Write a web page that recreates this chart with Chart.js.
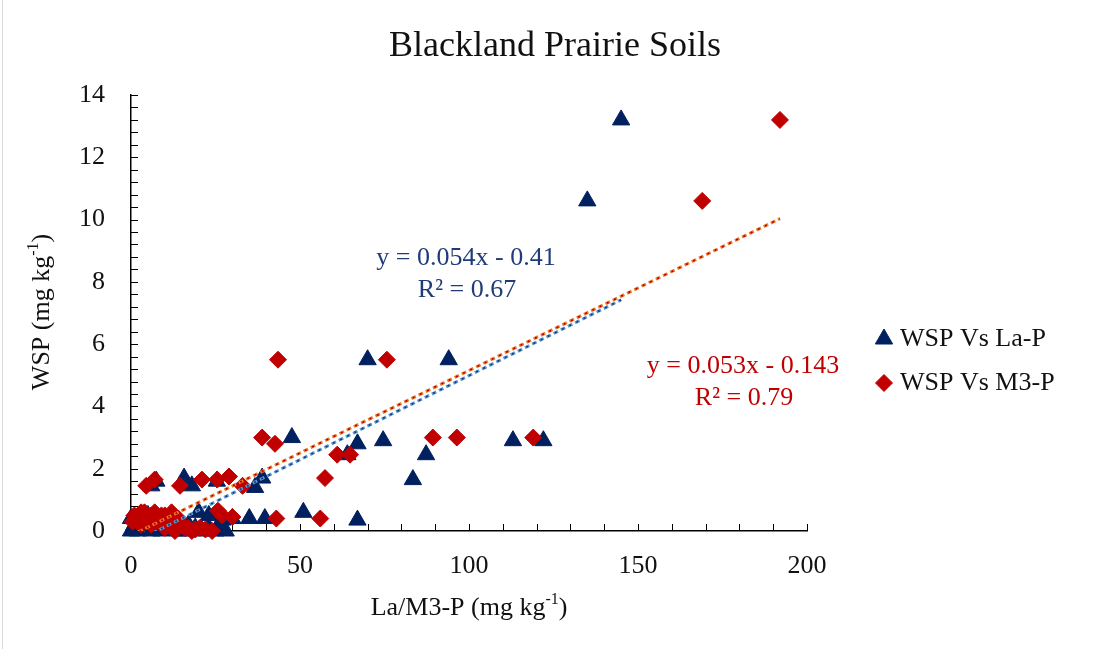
<!DOCTYPE html>
<html>
<head>
<meta charset="utf-8">
<title>Blackland Prairie Soils</title>
<script src="https://cdn.jsdelivr.net/npm/chart.js@4.4.0/dist/chart.umd.min.js"></script>
<style>
    html, body { margin: 0; padding: 0; background: #fff; }
    #wrap { position: relative; width: 1097px; height: 649px; }
</style>
</head>
<body>
<div id="wrap"><canvas id="wspChart"></canvas></div>
<script>
// Data (mg kg-1)
const laP = [
    {x: 145, y: 13.2}, {x: 135, y: 10.6}, {x: 70, y: 5.5}, {x: 94, y: 5.5},
    {x: 47.6, y: 3.0}, {x: 67, y: 2.8}, {x: 74.6, y: 2.9}, {x: 113, y: 2.9}, {x: 122, y: 2.9},
    {x: 64, y: 2.45}, {x: 87.3, y: 2.45}, {x: 83.4, y: 1.65}, {x: 38.8, y: 1.7}, {x: 36.7, y: 1.4},
    {x: 51, y: 0.6}, {x: 67, y: 0.35}, {x: 35, y: 0.4}, {x: 39.6, y: 0.4},
    {x: 15.7, y: 1.7}, {x: 18, y: 1.45}, {x: 25.4, y: 1.6}, {x: 6, y: 1.45}, {x: 7.5, y: 1.6},
    {x: 27, y: 0.35}, {x: 23, y: 0.5}, {x: 30, y: 0.4}, {x: 20, y: 0.6}, {x: 12, y: 0.3},
    {x: 0, y: 0}, {x: 0, y: 0.4}, {x: 2, y: 0}, {x: 4, y: 0.2}, {x: 6, y: 0}, {x: 9, y: 0},
    {x: 11, y: 0.1}, {x: 14, y: 0}, {x: 17, y: 0.2}, {x: 21, y: 0}, {x: 25, y: 0}, {x: 28, y: 0},
    {x: 5, y: 0.5}, {x: 8, y: 0.4}, {x: 3, y: 0.3},
    {x: 1, y: 0.2}, {x: 7, y: 0.2}, {x: 10, y: 0.4}, {x: 13, y: 0.2}, {x: 16, y: 0},
    {x: 19, y: 0.1}, {x: 23, y: 0.1}, {x: 26, y: 0.2}
];
const m3P = [
    {x: 192, y: 13.2}, {x: 169, y: 10.6}, {x: 43.5, y: 5.5}, {x: 75.7, y: 5.5},
    {x: 38.8, y: 3.0}, {x: 42.6, y: 2.8}, {x: 89.3, y: 3.0}, {x: 96.4, y: 3.0}, {x: 119, y: 3.0},
    {x: 61, y: 2.45}, {x: 64.8, y: 2.45}, {x: 57.4, y: 1.7}, {x: 43, y: 0.4}, {x: 56, y: 0.4},
    {x: 4.5, y: 1.45}, {x: 7, y: 1.65}, {x: 14.5, y: 1.45}, {x: 21, y: 1.65}, {x: 25.5, y: 1.65},
    {x: 29, y: 1.75}, {x: 33, y: 1.45},
    {x: 25.7, y: 0.65}, {x: 30, y: 0.45}, {x: 20.4, y: 0.1}, {x: 17, y: 0.1}, {x: 27, y: 0.5},
    {x: 1, y: 0.5}, {x: 3, y: 0.6}, {x: 5, y: 0.4}, {x: 7, y: 0.6}, {x: 9, y: 0.5}, {x: 11, y: 0.3},
    {x: 2, y: 0.3}, {x: 4, y: 0.3}, {x: 6, y: 0.2}, {x: 8, y: 0.45}, {x: 10, y: 0.1}, {x: 13, y: 0},
    {x: 15, y: 0.2}, {x: 18, y: 0}, {x: 22, y: 0.05}, {x: 24, y: 0},
    {x: 0.5, y: 0.3}, {x: 2, y: 0.4}, {x: 4, y: 0.6}, {x: 6, y: 0.5}, {x: 8, y: 0.3},
    {x: 10, y: 0.5}, {x: 12, y: 0.6}, {x: 3, y: 0.2}, {x: 7, y: 0.35}, {x: 14, y: 0.4},
    {x: 16, y: 0.1}, {x: 19, y: 0.05}
];

// Linear trendline end points (over each series' x range)
const laTrend = [{x: 0, y: -0.41}, {x: 145, y: 7.42}];
const m3Trend = [{x: 0, y: -0.143}, {x: 192, y: 10.03}];

const xTicks = [0, 50, 100, 150, 200];
const yTicks = [0, 2, 4, 6, 8, 10, 12, 14];
const xMinor = 10;
const yMinor = 0.4;

const seriesNames = ['WSP Vs La-P', 'WSP Vs M3-P'];
const laLabel = ['y = 0.054x - 0.41', 'R² = 0.67'];
const m3Label = ['y = 0.053x - 0.143', 'R² = 0.79'];

const FONT = "'Liberation Serif', 'Times New Roman', serif";
const NAVY = '#002060';
const RED = '#C00000';

// draw text with an optional superscript part, centred on x
function drawSupText(ctx, parts, x, y, size) {
    const supSize = Math.round(size * 0.62);
    let total = 0;
    parts.forEach(p => {
        ctx.font = (p.sup ? supSize : size) + 'px ' + FONT;
        p.w = ctx.measureText(p.t).width;
        total += p.w;
    });
    let cx = x - total / 2;
    ctx.textAlign = 'left';
    ctx.textBaseline = 'middle';
    parts.forEach(p => {
        ctx.font = (p.sup ? supSize : size) + 'px ' + FONT;
        ctx.fillText(p.t, cx, p.sup ? y - size * 0.3 : y);
        cx += p.w;
    });
}

const decorPlugin = {
    id: 'decor',
    beforeDatasetsDraw(chart) {
        const ctx = chart.ctx;
        const xs = chart.scales.x, ys = chart.scales.y;
        const area = chart.chartArea;
        ctx.save();
        ctx.strokeStyle = '#000';
        ctx.lineWidth = 1;
        // inside tick marks
        for (let v = xs.min; v <= xs.max + 1e-9; v += xMinor) {
            const px = Math.round(xs.getPixelForValue(v)) + 0.5;
            ctx.beginPath();
            ctx.moveTo(px, area.bottom);
            ctx.lineTo(px, area.bottom - 7);
            ctx.stroke();
        }
        for (let v = ys.min; v <= ys.max + 1e-9; v += yMinor) {
            const py = Math.round(ys.getPixelForValue(v)) + 0.5;
            ctx.beginPath();
            ctx.moveTo(area.left, py);
            ctx.lineTo(area.left + 7, py);
            ctx.stroke();
        }
        ctx.restore();
    },
    afterDraw(chart) {
        const ctx = chart.ctx;
        ctx.save();
        // chart frame edge on the left
        ctx.strokeStyle = '#d9d9d9';
        ctx.lineWidth = 1;
        ctx.beginPath();
        ctx.moveTo(2.5, 0);
        ctx.lineTo(2.5, 649);
        ctx.stroke();

        // title
        ctx.fillStyle = '#111';
        ctx.font = '36px ' + FONT;
        ctx.textAlign = 'center';
        ctx.textBaseline = 'middle';
        ctx.fillText('Blackland Prairie Soils', 555, 47);

        // axis titles
        drawSupText(ctx, [{t: 'La/M3-P (mg kg'}, {t: '-1', sup: true}, {t: ')'}], 469, 608, 26);
        ctx.save();
        ctx.translate(42, 312);
        ctx.rotate(-Math.PI / 2);
        drawSupText(ctx, [{t: 'WSP (mg kg'}, {t: '-1', sup: true}, {t: ')'}], 0, 0, 26);
        ctx.restore();

        // trendline equations
        ctx.font = '26px ' + FONT;
        ctx.textAlign = 'center';
        ctx.textBaseline = 'middle';
        ctx.fillStyle = '#1F3B78';
        ctx.fillText(laLabel[0], 466, 258);
        ctx.fillText(laLabel[1], 467, 290);
        ctx.fillStyle = RED;
        ctx.fillText(m3Label[0], 743, 366);
        ctx.fillText(m3Label[1], 744, 398);

        // legend
        const items = [
            {style: 'triangle', color: NAVY, r: 10, y: 339},
            {style: 'rectRot', color: RED, r: 8.5, y: 383}
        ];
        items.forEach((it, i) => {
            ctx.fillStyle = it.color;
            ctx.strokeStyle = it.color;
            ctx.lineWidth = 1;
            Chart.helpers.drawPoint(ctx, {pointStyle: it.style, radius: it.r, rotation: 0, borderWidth: 1}, 884, it.y);
            ctx.fillStyle = '#111';
            ctx.font = '26px ' + FONT;
            ctx.textAlign = 'left';
            ctx.textBaseline = 'middle';
            ctx.fillText(seriesNames[i], 900, it.y);
        });
        ctx.restore();
    }
};

const ctx = document.getElementById('wspChart').getContext('2d');
const wspChart = new Chart(ctx, {
    type: 'scatter',
    data: {
        datasets: [
            {
                label: seriesNames[0],
                data: laP,
                pointStyle: 'triangle',
                pointRadius: 10,
                backgroundColor: NAVY,
                borderColor: NAVY,
                borderWidth: 1,
                clip: false,
                order: 6
            },
            {
                label: seriesNames[1],
                data: m3P,
                pointStyle: 'rectRot',
                pointRadius: 8.5,
                backgroundColor: RED,
                borderColor: RED,
                borderWidth: 1,
                clip: false,
                order: 5
            },
            {
                label: 'La-P trend',
                data: laTrend,
                showLine: true,
                pointRadius: 0,
                borderColor: '#5B9BD5',
                borderWidth: 3,
                borderDash: [5, 3],
                order: 4
            },
            {
                label: 'La-P trend dots',
                data: laTrend,
                showLine: true,
                pointRadius: 0,
                borderColor: '#1F3B78',
                borderWidth: 1.8,
                borderDash: [2, 6],
                borderDashOffset: -1.5,
                order: 3
            },
            {
                label: 'M3-P trend',
                data: m3Trend,
                showLine: true,
                pointRadius: 0,
                borderColor: '#ED7D31',
                borderWidth: 3,
                borderDash: [5, 3],
                order: 2
            },
            {
                label: 'M3-P trend dots',
                data: m3Trend,
                showLine: true,
                pointRadius: 0,
                borderColor: RED,
                borderWidth: 1.8,
                borderDash: [2, 6],
                borderDashOffset: -1.5,
                order: 1
            }
        ]
    },
    options: {
        responsive: true,
        maintainAspectRatio: false,
        animation: false,
        layout: {
            padding: {top: 95, right: 290, bottom: 0, left: 0}
        },
        plugins: {
            legend: {display: false},
            title: {display: false},
            tooltip: {enabled: false}
        },
        scales: {
            x: {
                type: 'linear',
                min: 0,
                max: 200,
                grid: {display: false, drawTicks: false},
                border: {display: true, color: '#000', width: 1.5},
                ticks: {
                    font: {family: FONT, size: 26},
                    color: '#111',
                    padding: 20,
                    maxRotation: 0
                },
                afterBuildTicks: scale => {
                    scale.ticks = xTicks.map(v => ({value: v}));
                },
                afterFit: scale => {
                    scale.height = 118;
                }
            },
            y: {
                type: 'linear',
                min: 0,
                max: 14,
                grid: {display: false, drawTicks: false},
                border: {display: true, color: '#000', width: 1.5},
                ticks: {
                    font: {family: FONT, size: 26},
                    color: '#111',
                    padding: 26
                },
                afterBuildTicks: scale => {
                    scale.ticks = yTicks.map(v => ({value: v}));
                },
                afterFit: scale => {
                    scale.width = 131;
                }
            }
        }
    },
    plugins: [decorPlugin]
});
</script>
</body>
</html>
